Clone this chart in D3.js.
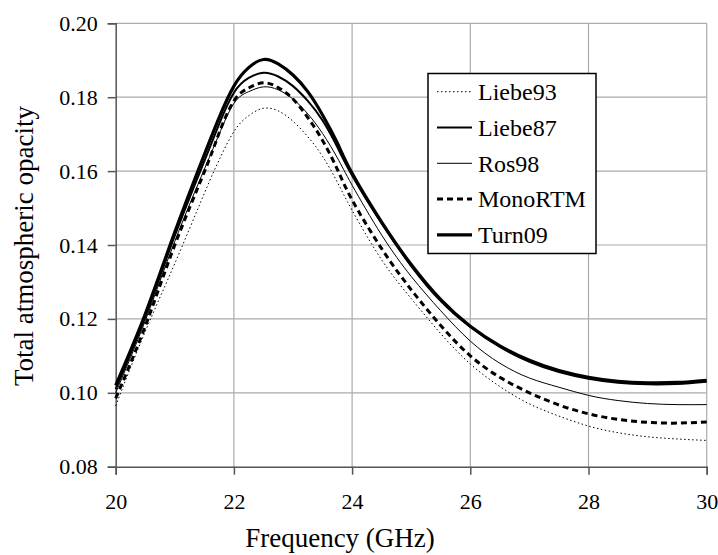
<!DOCTYPE html>
<html>
<head>
<meta charset="utf-8">
<script src="https://cdn.jsdelivr.net/npm/d3@7"></script>
<style>
  html, body { margin: 0; padding: 0; background: #fff; }
  svg { display: block; }
</style>
</head>
<body>
<svg id="chart"></svg>
<script>
/* Total atmospheric opacity vs frequency, five absorption models */

const FREQ = [20, 20.5, 21, 21.5, 21.75, 22, 22.25, 22.5, 22.75, 23, 23.25, 23.5, 23.75,
              24, 24.5, 25, 25.5, 26, 26.5, 27, 27.5, 28, 28.5, 29, 29.5, 30];

const LIEBE93 = [0.0965, 0.1166, 0.1350, 0.1540, 0.1630, 0.1707, 0.1750, 0.1770, 0.1763,
                 0.1735, 0.1693, 0.1640, 0.1570, 0.1494, 0.1360, 0.1255, 0.1160, 0.1078,
                 0.1017, 0.0970, 0.0937, 0.0910, 0.0892, 0.0881, 0.0875, 0.0871];
const LIEBE87 = [0.1010, 0.1205, 0.1425, 0.1627, 0.1727, 0.1812, 0.1852, 0.1866, 0.1856,
                 0.1830, 0.1790, 0.1737, 0.1665, 0.1588, 0.1458, 0.1343, 0.1248, 0.1178,
                 0.1124, 0.1084, 0.1056, 0.1038, 0.1027, 0.1023, 0.1024, 0.1030];
const ROS98   = [0.1000, 0.1195, 0.1410, 0.1605, 0.1700, 0.1783, 0.1815, 0.1828, 0.1820,
                 0.1795, 0.1755, 0.1702, 0.1636, 0.1562, 0.1427, 0.1315, 0.1222, 0.1140,
                 0.1080, 0.1040, 0.1015, 0.0993, 0.0979, 0.0971, 0.0968, 0.0968];
const MONORTM = [0.0985, 0.1180, 0.1400, 0.1598, 0.1703, 0.1790, 0.1825, 0.1839, 0.1826,
                 0.1795, 0.1745, 0.1683, 0.1605, 0.1522, 0.1390, 0.1279, 0.1182, 0.1100,
                 0.1042, 0.1000, 0.0967, 0.0943, 0.0928, 0.0920, 0.0918, 0.0921];
const TURN09  = [0.1020, 0.1213, 0.1435, 0.1645, 0.1745, 0.1830, 0.1880, 0.1902, 0.1890,
                 0.1860, 0.1815, 0.1752, 0.1676, 0.1594, 0.1462, 0.1347, 0.1252, 0.1180,
                 0.1127, 0.1088, 0.1060, 0.1042, 0.1031, 0.1027, 0.1028, 0.1034];

const SERIES_NAMES = ['Liebe93', 'Liebe87', 'Ros98', 'MonoRTM', 'Turn09'];
const X_TICKS = [20, 22, 24, 26, 28, 30];
const Y_TICKS = [0.08, 0.10, 0.12, 0.14, 0.16, 0.18, 0.20];

const STYLE = {
  'Liebe93': { width: 1,   dash: '1.5,2.5' },
  'Liebe87': { width: 2,   dash: null },
  'Ros98':   { width: 1,   dash: null },
  'MonoRTM': { width: 3,   dash: '6,4' },
  'Turn09':  { width: 3.2, dash: null },
};

const FONT = 'Liberation Serif';

const W = 718, H = 555;
const margin = { top: 23.3, right: 11.3, bottom: 88.3, left: 115.7 };
const iW = W - margin.left - margin.right;
const iH = H - margin.top - margin.bottom;

const svg = d3.select('#chart')
  .attr('width', W)
  .attr('height', H)
  .attr('viewBox', `0 0 ${W} ${H}`);

const g = svg.append('g')
  .attr('transform', `translate(${margin.left},${margin.top})`);

const x = d3.scaleLinear().domain([20, 30]).range([0, iW]);
const y = d3.scaleLinear().domain([0.08, 0.20]).range([iH, 0]);

/* ── Grid ── */
g.append('g')
  .selectAll('line')
  .data(Y_TICKS.slice(1))
  .join('line')
  .attr('x1', 0).attr('x2', iW)
  .attr('y1', d => y(d)).attr('y2', d => y(d))
  .attr('stroke', '#ababab')
  .attr('stroke-width', 1.2);

g.append('g')
  .selectAll('line')
  .data(X_TICKS.slice(1))
  .join('line')
  .attr('x1', d => x(d)).attr('x2', d => x(d))
  .attr('y1', 0).attr('y2', iH)
  .attr('stroke', '#ababab')
  .attr('stroke-width', 1.2);

/* ── Axes ── */
g.append('g')
  .attr('transform', `translate(0,${iH})`)
  .call(d3.axisBottom(x).tickValues(X_TICKS).tickSize(8).tickPadding(19).tickFormat(d3.format('d')))
  .attr('font-family', FONT)
  .attr('font-size', 22)
  .call(ax => ax.select('.domain').attr('stroke', '#555').attr('stroke-width', 1.5))
  .call(ax => ax.selectAll('.tick line').attr('stroke', '#555').attr('stroke-width', 1.5))
  .call(ax => ax.selectAll('.tick text').attr('fill', '#000'));

g.append('g')
  .call(d3.axisLeft(y).tickValues(Y_TICKS).tickSize(8).tickPadding(10).tickFormat(d3.format('.2f')))
  .attr('font-family', FONT)
  .attr('font-size', 22)
  .call(ax => ax.select('.domain').attr('stroke', '#555').attr('stroke-width', 1.5))
  .call(ax => ax.selectAll('.tick line').attr('stroke', '#555').attr('stroke-width', 1.5))
  .call(ax => ax.selectAll('.tick text').attr('fill', '#000'));

/* ── Axis titles ── */
svg.append('text')
  .attr('x', 340)
  .attr('y', 547)
  .attr('text-anchor', 'middle')
  .attr('font-family', FONT)
  .attr('font-size', 27)
  .text('Frequency (GHz)');

svg.append('text')
  .attr('transform', `translate(33,246) rotate(-90)`)
  .attr('text-anchor', 'middle')
  .attr('font-family', FONT)
  .attr('font-size', 27)
  .text('Total atmospheric opacity');

/* ── Curves ── */
const seriesData = {
  'Liebe93': LIEBE93,
  'Liebe87': LIEBE87,
  'Ros98':   ROS98,
  'MonoRTM': MONORTM,
  'Turn09':  TURN09,
};

const line = d3.line()
  .x(d => x(d[0]))
  .y(d => y(d[1]))
  .curve(d3.curveNatural);

SERIES_NAMES.forEach(name => {
  const pts = FREQ.map((f, i) => [f, seriesData[name][i]]);
  g.append('path')
    .datum(pts)
    .attr('d', line)
    .attr('fill', 'none')
    .attr('stroke', '#000')
    .attr('stroke-width', STYLE[name].width)
    .attr('stroke-dasharray', STYLE[name].dash)
    .attr('stroke-linejoin', 'round');
});

/* ── Legend ── */
const lg = svg.append('g').attr('transform', 'translate(428,73.5)');
lg.append('rect')
  .attr('width', 168)
  .attr('height', 180)
  .attr('fill', '#fff')
  .attr('stroke', '#000')
  .attr('stroke-width', 1.5);

const rowY = i => 18.2 + i * 35.8;

lg.selectAll('.lg-line')
  .data(SERIES_NAMES)
  .join('line')
  .attr('x1', 9).attr('x2', 44)
  .attr('y1', (d, i) => rowY(i)).attr('y2', (d, i) => rowY(i))
  .attr('stroke', '#000')
  .attr('stroke-width', d => STYLE[d].width)
  .attr('stroke-dasharray', d => STYLE[d].dash);

lg.selectAll('.lg-text')
  .data(SERIES_NAMES)
  .join('text')
  .attr('x', 50)
  .attr('y', (d, i) => rowY(i) + 8.3)
  .attr('font-family', FONT)
  .attr('font-size', 24)
  .text(d => d);
</script>
</body>
</html>
